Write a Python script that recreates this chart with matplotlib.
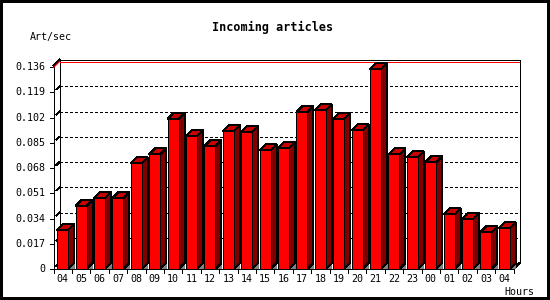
import matplotlib
matplotlib.use('Agg')
import matplotlib.pyplot as plt
from matplotlib.patches import Polygon, Rectangle
import numpy as np

plt.rcParams['lines.scale_dashes'] = False

hours = ['04', '05', '06', '07', '08', '09', '10', '11', '12', '13', '14', '15', '16',
         '17', '18', '19', '20', '21', '22', '23', '00', '01', '02', '03', '04']
rates = [0.0263, 0.0424, 0.0478, 0.0478, 0.0712, 0.0772, 0.1010, 0.0896, 0.0828,
         0.0929, 0.0923, 0.0800, 0.0815, 0.1057, 0.1069, 0.1010, 0.0934, 0.1345,
         0.0772, 0.0752, 0.0718, 0.0368, 0.0335, 0.0247, 0.0274]
yticks = [0, 0.017, 0.034, 0.051, 0.068, 0.085, 0.102, 0.119, 0.136]
ymax = 0.136

W, H = 550, 300
fig = plt.figure(figsize=(W / 100, H / 100), dpi=100)
# axes box in pixels (front plane)
x0, x1, yb, yt = 53.5, 513.5, 269, 67
ax = fig.add_axes([x0 / W, (H - yb) / H, (x1 - x0) / W, (yb - yt) / H])
n = len(rates)
ax.set_xlim(-0.5, n - 0.5)
ax.set_ylim(0, ymax)
ax.axis('off')

# pixel -> data units
px = n / (x1 - x0)
py = ymax / (yb - yt)
dx, dy = 6 * px, 6 * py
lw = 0.72  # one pixel
kw = dict(clip_on=False, lw=lw, antialiased=False)

red, top_c, side_c = '#ff0000', '#c80000', '#800000'
xl, xr = -0.5, n - 0.5
ytop = ymax + 1.5 * py
yred = ymax - 0.5 * py

# back plane
ax.plot([xl + dx, xl + dx], [dy, ytop + dy], color='k', **kw)
ax.plot([xr + dx, xr + dx], [dy, ytop + dy], color='k', **kw)
ax.plot([xl + dx, xr + dx], [ytop + dy, ytop + dy], color='k', **kw)
ax.plot([xl, xl + dx], [ytop, ytop + dy], color='k', **kw)
for v in yticks[1:-1]:
    ax.plot([xl + dx, xr + dx], [v + dy, v + dy], color='k', ls=(0, (1.5, 1.5)), **kw)
for v in yticks[:-1]:
    ax.plot([xl + dx * 0.5, xl + dx], [v + dy * 0.5, v + dy], color='k', **kw)
# maximum line
ax.plot([xl + dx + 0.5 * px, xr + dx - 0.5 * px], [yred + dy, yred + dy], color=red,
        lw=0.72, clip_on=False, zorder=3)
ax.plot([xl, xl + dx], [yred, yred + dy], color=red, lw=0.9, clip_on=False, zorder=3)

# front axes
ax.plot([xl, xl], [0, ytop], color='k', **kw)
ax.plot([xl, xr], [0, 0], color='k', **kw)
ax.plot([xr, xr + dx], [0, dy], color='k', **kw)
for v in yticks:
    ax.plot([xl - 4 * px, xl], [v, v], color='k', **kw)
    ax.text(xl - 8 * px, v, '%g' % v if v == 0 else '%.3f' % v, ha='right', va='center',
            family='DejaVu Sans Mono', fontsize=7.2)
for i in range(n + 1):
    ax.plot([i - 0.5, i - 0.5], [0, -4 * py], color='k', **kw)
for i, h in enumerate(hours):
    ax.text(i, -5 * py, h, ha='center', va='top', family='DejaVu Sans Mono', fontsize=7.2)

# bars
bw = 0.3
for i, v in enumerate(rates):
    l, r = i - bw, i + bw
    ax.add_patch(Polygon([(r, 0), (r + dx, dy), (r + dx, 0)], closed=True,
                         fc='#808080', ec='none', clip_on=False, antialiased=False, zorder=4))
    ax.add_patch(Polygon([(r, 0), (r + dx, dy), (r + dx, v + dy), (r, v)], closed=True,
                         fc=side_c, ec='k', zorder=4, **kw))
    ax.add_patch(Polygon([(l, v), (r, v), (r + dx, v + dy), (l + dx, v + dy)], closed=True,
                         fc=top_c, ec='k', zorder=4, **kw))
    ax.add_patch(Rectangle((l, 0), 2 * bw, v, fc=red, ec='k', zorder=4, **kw))

fig.text(273 / W, 1 - 27 / H, 'Incoming articles', ha='center', va='center',
         family='DejaVu Sans Mono', fontweight='bold', fontsize=8.5)
fig.text(30 / W, 1 - 37 / H, 'Art/sec', ha='left', va='center',
         family='DejaVu Sans Mono', fontsize=7.2)
fig.text(534 / W, 1 - 292 / H, 'Hours', ha='right', va='center',
         family='DejaVu Sans Mono', fontsize=7.2)

fig.patches.append(Rectangle((0.5 / W, 1 / H), (W - 2) / W, (H - 2) / H, transform=fig.transFigure,
                             fill=False, ec='k', lw=1.5, antialiased=False))

fig.savefig('out.png', dpi=100)
